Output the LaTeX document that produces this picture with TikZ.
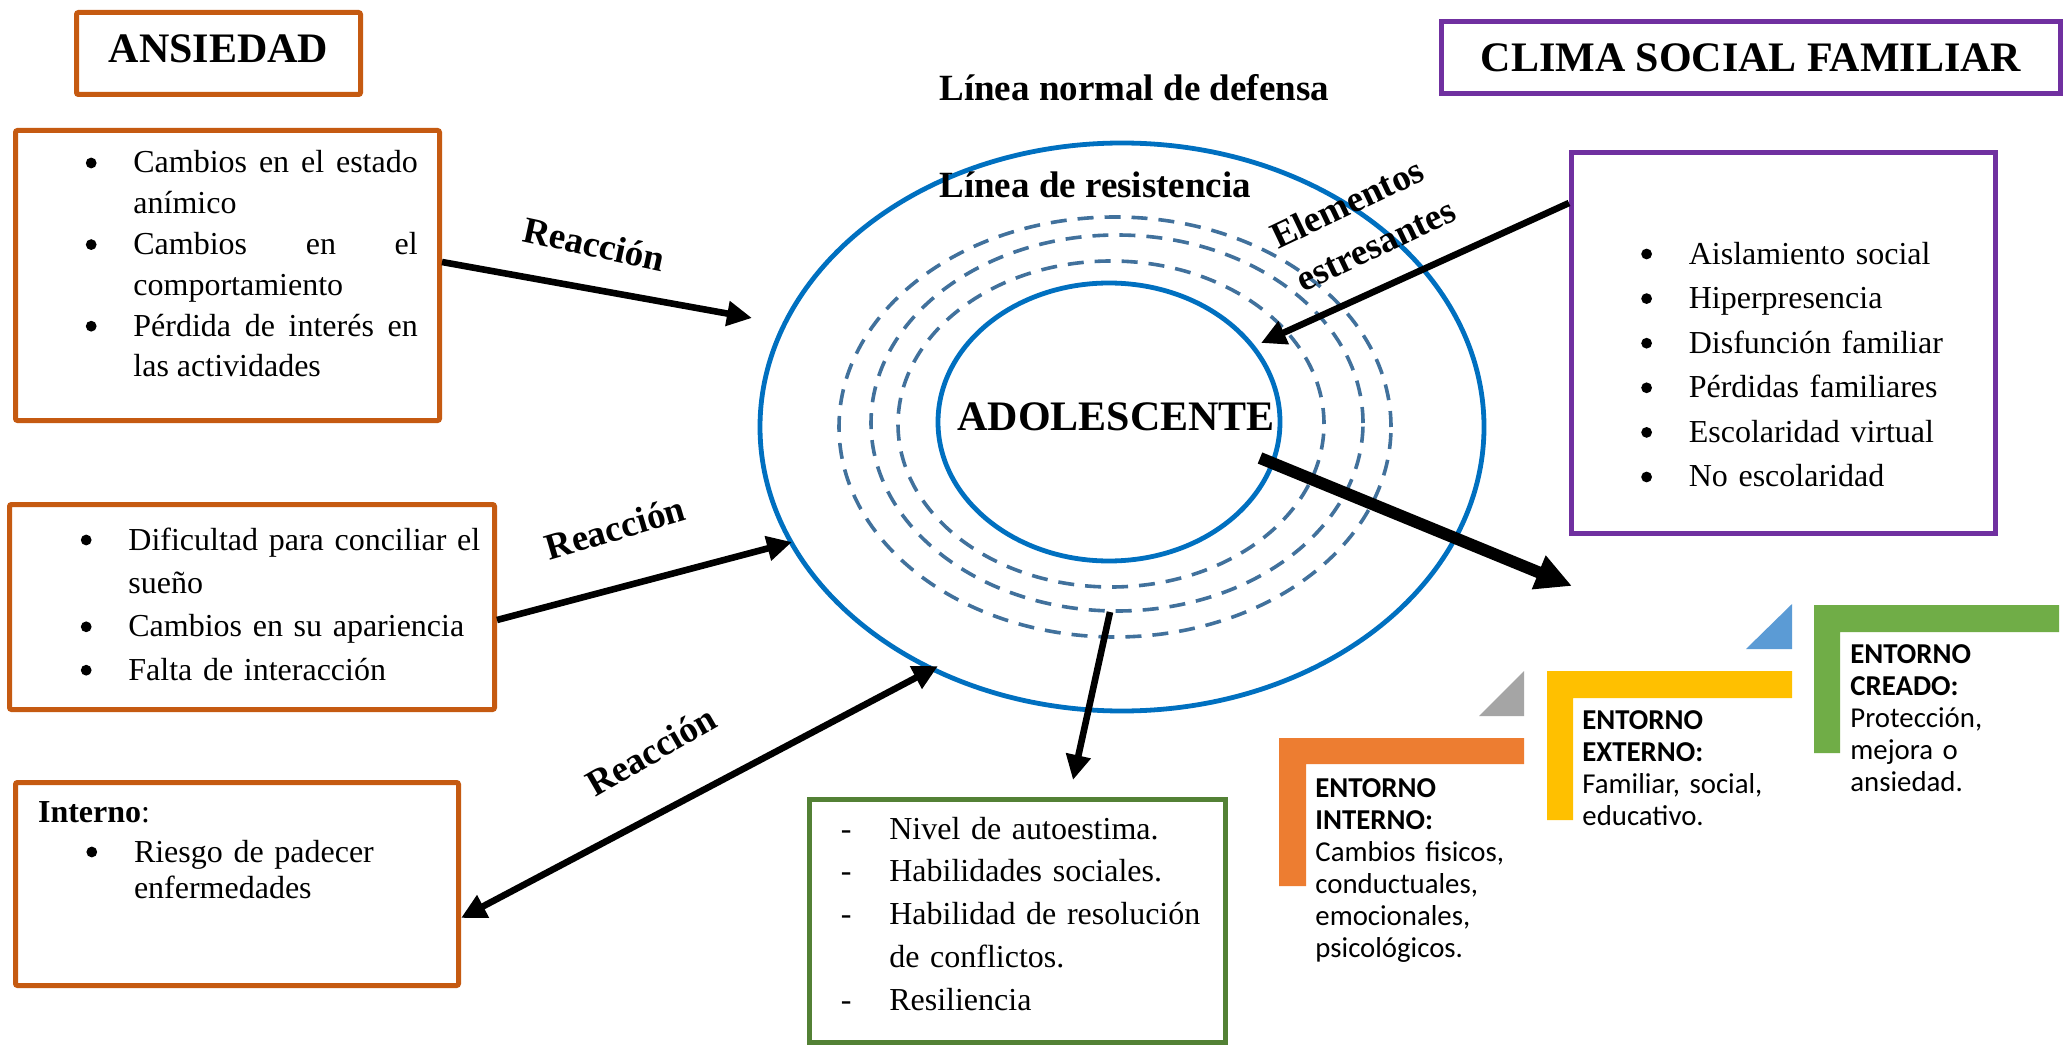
\documentclass[tikz,border=0pt]{standalone}
\usepackage{fontspec}
\setmainfont{Liberation Serif}
\newfontfamily\carlito{Carlito}
\usetikzlibrary{arrows.meta}
\definecolor{boxorange}{HTML}{C55A11}
\definecolor{boxpurple}{HTML}{7030A0}
\definecolor{boxgreen}{HTML}{538135}
\definecolor{ringblue}{HTML}{0070C0}
\definecolor{dashblue}{HTML}{41719C}
\definecolor{stOrange}{HTML}{ED7D31}
\definecolor{stGray}{HTML}{A5A5A5}
\definecolor{stYellow}{HTML}{FFC000}
\definecolor{stBlue}{HTML}{5B9BD5}
\definecolor{stGreen}{HTML}{70AD47}
\newcommand{\bdot}{\tikz[baseline=0pt]\fill (0pt,5pt) circle[radius=2.7pt];}
\newcommand{\bul}{\noindent\hangindent=23.8pt\hangafter=1\makebox[23.8pt][l]{\bdot}\ignorespaces}
\newcommand{\dsh}{\noindent\hangindent=24.2pt\hangafter=1\makebox[24.2pt][l]{-}\ignorespaces}
\begin{document}
\begin{tikzpicture}[x=0.5pt,y=-0.5pt,
  obox/.style={draw=boxorange,line width=2.5pt,inner sep=0pt,rounded corners=1pt},
  pbox/.style={draw=boxpurple,line width=2.5pt,inner sep=0pt},
  gbox/.style={draw=boxgreen,line width=2.5pt,inner sep=0pt},
  body/.style={inner sep=0pt,anchor=base west,font=\fontsize{16}{20.4}\selectfont},
  titletext/.style={inner sep=0pt,anchor=base,font=\fontsize{21}{25}\selectfont\bfseries},
  lbl/.style={inner sep=0pt,font=\fontsize{18.5}{22}\selectfont\bfseries},
  ring/.style={draw=ringblue,line width=2.4pt},
  dring/.style={draw=dashblue,line width=1.8pt,dash pattern=on 8pt off 5.5pt},
  arr/.style={line width=3.3pt,-{Triangle[length=12.5pt,width=12pt]}},
  darr/.style={line width=3.3pt,{Triangle[length=12.5pt,width=12pt]}-{Triangle[length=12.5pt,width=12pt]}},
  bigarr/.style={line width=6pt,-{Triangle[length=18pt,width=17pt]}},
  stairtext/.style={inner sep=0pt,anchor=base west,text width=120pt,align=left,font=\carlito\fontsize{14.4}{16}\selectfont}
]
\fill[white] (0,0) rectangle (2067,1048);
\useasboundingbox (0,0) rectangle (2067,1048);

% ---- rings ----
\draw[ring] (1122,427) ellipse [x radius=181pt, y radius=142pt];
\draw[dring] (1115,427) ellipse [x radius=138pt, y radius=105pt];
\draw[dring] (1117,423) ellipse [x radius=123pt, y radius=94pt];
\draw[dring] (1111,424) ellipse [x radius=106.5pt, y radius=81.5pt];
\draw[ring] (1109,422) ellipse [x radius=85.5pt, y radius=69.5pt];

\node[lbl,anchor=base west] (lnd) at (939,101) {Línea normal de defensa};
\node[lbl,anchor=base west] (lres) at (939,198) {Línea de resistencia};
\node[inner sep=0pt,anchor=base west,font=\fontsize{21}{25}\selectfont\bfseries] (adol) at (957,430) {ADOLESCENTE};
\node[lbl,anchor=base west,rotate=25.5] (elem1) at (1278,250) {Elementos};
\node[lbl,anchor=base west,rotate=25.5] (elem2) at (1303,293) {estresantes};

% ---- left boxes ----
\node[obox,minimum width=142pt,minimum height=41pt] (ans) at (218.5,53.5) {};
\node[titletext] (ansT) at (218.5,63) {ANSIEDAD};

\node[obox,minimum width=212pt,minimum height=145pt] (box1) at (227.5,275.5) {};
\node[body,text width=166pt,align=justify] (box1T) at (85.4,173) {%
\bul Cambios en el estado\linebreak anímico\par
\bul Cambios en el\linebreak comportamiento\par
\bul Pérdida de interés en\linebreak las actividades\par};

\node[obox,minimum width=242.5pt,minimum height=102.5pt] (box2) at (252,607) {};
\node[body,text width=205pt,align=left,font=\fontsize{16}{21.7}\selectfont] (box2T) at (80.4,550) {%
\bul Dificultad para conciliar el\newline sueño\par
\bul Cambios en su apariencia\par
\bul Falta de interacción\par};

\node[obox,minimum width=221.5pt,minimum height=101.5pt] (box3) at (237,884) {};
\node[body] (box3H) at (37.7,822) {\textbf{Interno}:};
\node[body,text width=180pt,align=left,font=\fontsize{16}{18.3}\selectfont] (box3T) at (86,862) {%
\bul Riesgo de padecer\newline enfermedades\par};

% ---- green box ----
\node[gbox,minimum width=208pt,minimum height=121.5pt] (grn) at (1017.5,921) {};
\node[body,text width=200pt,align=left,font=\fontsize{16}{21.4}\selectfont] (grnT) at (840.5,839) {%
\dsh Nivel de autoestima.\par
\dsh Habilidades sociales.\par
\dsh Habilidad de resolución\newline de conflictos.\par
\dsh Resiliencia\par};

% ---- right boxes ----
\node[pbox,minimum width=309.5pt,minimum height=36pt] (clima) at (1751,57.5) {};
\node[titletext] (climaT) at (1751,72) {CLIMA SOCIAL FAMILIAR};

\node[pbox,minimum width=212pt,minimum height=190.5pt] (pur) at (1783.5,343) {};
\node[body,text width=170pt,align=left,font=\fontsize{16}{22.3}\selectfont] (purT) at (1640.8,264) {%
\bul Aislamiento social\par
\bul Hiperpresencia\par
\bul Disfunción familiar\par
\bul Pérdidas familiares\par
\bul Escolaridad virtual\par
\bul No escolaridad\par};

% ---- reaction labels ----
\node[lbl,rotate=-12.3] (r1) at (594,244) {Reacción};
\node[lbl,rotate=16.4] (r2) at (615,528) {Reacción};
\node[lbl,rotate=30] (r3) at (651,751) {Reacción};

% ---- arrows ----
\coordinate (t1) at (752,318);
\coordinate (t2) at (792,542);
\coordinate (t3) at (938,666);
\coordinate (t4) at (1261,343);
\coordinate (s5) at (1260,458);
\coordinate (t5) at (1572,586);
\coordinate (s6) at (1110,612);

\draw[arr] ([yshift=6.75pt]box1.east) -- (t1);
\draw[arr] ([yshift=-6.5pt]box2.east) -- (t2);
\draw[darr] ([yshift=-17pt]box3.east) -- (t3);
\draw[arr] ([yshift=70pt]pur.west) -- (t4);
\draw[bigarr] (s5) -- (t5);
\draw[arr] (s6) -- ([xshift=27.75pt,yshift=8.5pt]grn.north);

% ---- staircase ----
\fill[stOrange] (1279,738) -- (1524,738) -- (1524,764) -- (1306,764) -- (1306,886) -- (1279,886) -- cycle;
\fill[stGray] (1479,716) -- (1524,716) -- (1524,671) -- cycle;
\fill[stYellow] (1547,671) -- (1792,671) -- (1792,698) -- (1573,698) -- (1573,820) -- (1547,820) -- cycle;
\fill[stBlue] (1746,649) -- (1792,649) -- (1792,604) -- cycle;
\fill[stGreen] (1814,605) -- (2059,605) -- (2059,632) -- (1840,632) -- (1840,753) -- (1814,753) -- cycle;

\node[stairtext] (stI) at (1315,797) {\textbf{ENTORNO}\\\textbf{INTERNO:}\\Cambios fisicos,\\conductuales,\\emocionales,\\psicológicos.};
\node[stairtext] (stE) at (1582,729) {\textbf{ENTORNO}\\\textbf{EXTERNO:}\\Familiar, social,\\educativo.};
\node[stairtext] (stC) at (1850,663) {\textbf{ENTORNO}\\\textbf{CREADO:}\\Protección,\\mejora o\\ansiedad.};
\end{tikzpicture}
\end{document}
